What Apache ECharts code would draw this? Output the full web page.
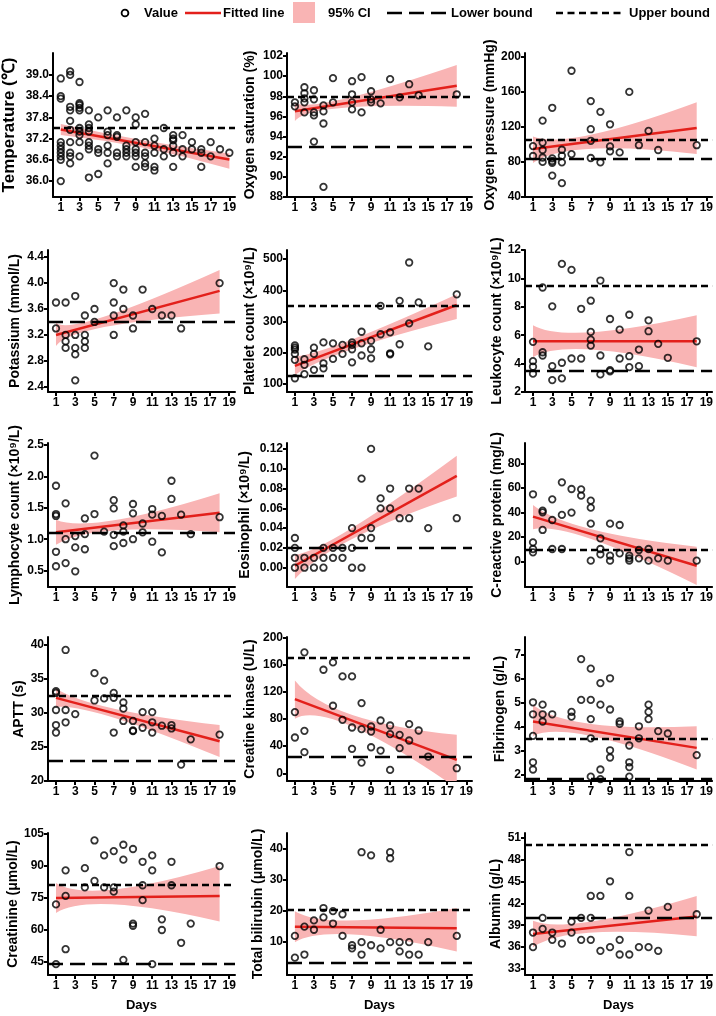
<!DOCTYPE html>
<html>
<head>
<meta charset="utf-8">
<script src="https://cdn.jsdelivr.net/npm/echarts@6/dist/echarts.min.js"></script>
<style>
  html, body { margin: 0; background: #fff; }
  #chart { width: 716px; height: 1016px; }
</style>
</head>
<body>
<div id="chart"></div>
<script>
  // ---- data: [day, value] ----
  var dayTicks = [1, 3, 5, 7, 9, 11, 13, 15, 17, 19];

  var temperature = [[1,38.9],[1,38.4],[1,38.33],[1,37.1],[1,37.0],[1,36.9],[1,36.8],[1,36.7],[1,36.6],[1,36.0],
    [2,39.1],[2,39.0],[2,38.1],[2,38.0],[2,37.7],[2,37.45],[2,37.1],[2,36.8],[2,36.7],[2,36.5],
    [3,38.8],[3,38.2],[3,38.15],[3,38.07],[3,38.0],[3,37.5],[3,37.4],[3,37.3],[3,37.1],[3,36.7],
    [4,38.0],[4,37.6],[4,37.5],[4,37.4],[4,37.1],[4,37.0],[4,36.9],[4,36.1],
    [5,37.8],[5,36.9],[5,36.8],[5,36.2],[6,38.0],[6,37.4],[6,37.3],[6,37.0],[6,36.8],[6,36.5],
    [7,37.8],[7,37.3],[7,37.25],[7,36.8],[7,36.7],[8,38.0],[8,37.0],[8,36.9],[8,36.8],[8,36.7],
    [9,37.8],[9,37.6],[9,37.1],[9,36.9],[9,36.8],[9,36.7],[9,36.4],[10,37.9],[10,37.1],[10,36.8],[10,36.7],[10,36.5],[10,36.4],
    [11,37.2],[11,37.0],[11,36.8],[11,36.4],[11,36.3],[12,37.5],[12,36.9],[12,36.7],
    [13,37.3],[13,37.2],[13,37.15],[13,37.0],[13,36.8],[13,36.4],[14,37.3],[14,36.9],[14,36.7],
    [15,37.1],[15,36.9],[16,36.9],[16,36.8],[16,36.4],[17,37.1],[17,36.7],[18,36.9],[19,36.8]];
  var temperatureFit = [[1,37.46],[19,36.61]];
  var temperatureCI = [[1,37.30,37.61],[10,36.93,37.14],[19,36.35,36.78]];
  var temperatureBounds = [null, 37.5];
  var temperatureTicks = [36.0, 36.6, 37.2, 37.8, 38.4, 39.0];

  var oxygenSat = [[1,97.4],[1,97.0],[2,98.9],[2,98.3],[2,97.8],[2,97.4],[2,96.4],[3,98.6],[3,97.7],[3,96.4],[3,96.1],[3,93.5],
    [4,97.1],[4,96.5],[4,95.3],[4,89.0],[5,99.8],[5,97.4],[7,99.5],[7,98.2],[7,97.4],[7,96.7],[8,99.9],[8,96.4],
    [9,98.5],[9,97.7],[9,97.4],[10,97.3],[11,99.7],[12,97.9],[13,99.2],[14,98.1],[18,98.2]];
  var oxygenSatFit = [[1,96.52],[18,99.05]];
  var oxygenSatCI = [[1,95.54,97.41],[6,96.85,97.7],[18,96.95,101.1]];
  var oxygenSatBounds = [93, 98];
  var oxygenSatTicks = [88, 90, 92, 94, 96, 98, 100, 102];

  var oxygenPressure = [[1,98],[1,86.7],[2,127],[2,102],[2,93.5],[2,85],[2,80],[3,141.6],[3,84],[3,81],[3,79],[3,64.4],
    [4,93.8],[4,87],[4,79.5],[4,55.8],[5,183.8],[5,88.9],[7,149.2],[7,117.2],[7,104],[7,84.4],[8,137],[8,79.5],
    [9,122.8],[9,97.6],[9,92],[10,90.8],[11,159.7],[12,99],[13,115.3],[14,93.5],[18,99]];
  var oxygenPressureFit = [[1,94.6],[18,118.7]];
  var oxygenPressureCI = [[1,78.8,108.9],[7,95,111],[18,88.9,148]];
  var oxygenPressureBounds = [83, 105];
  var oxygenPressureTicks = [40, 80, 120, 160, 200];

  var potassium = [[1,3.7],[1,3.3],[2,3.7],[2,3.2],[2,3.1],[2,3.0],[3,3.8],[3,3.2],[3,3.0],[3,2.9],[3,2.5],
    [4,3.5],[4,3.2],[4,3.1],[4,3.0],[5,3.6],[5,3.4],[7,4.0],[7,3.7],[7,3.5],[7,3.2],[8,3.9],[8,3.6],
    [9,3.5],[9,3.3],[10,3.9],[11,3.6],[12,3.5],[13,3.5],[14,3.3],[18,4.0]];
  var potassiumFit = [[1,3.20],[18,3.88]];
  var potassiumCI = [[1,3.03,3.39],[6,3.32,3.48],[18,3.53,4.20]];
  var potassiumBounds = [3.4, null];
  var potassiumTicks = [2.4, 2.8, 3.2, 3.6, 4.0, 4.4];

  var platelet = [[1,223],[1,216],[1,210],[1,196],[1,177],[1,118],[2,179],[2,161],[2,131],[3,216],[3,196],[3,145],
    [4,233],[4,166],[4,150],[5,230],[5,180],[6,225],[6,196],[7,233],[7,225],[7,211],[7,169],[8,267],[8,230],[8,191],
    [9,238],[9,211],[9,182],[10,350],[10,259],[11,265],[11,198],[11,195],[12,366],[12,227],[13,489],[13,294],
    [14,361],[15,220],[18,387]];
  var plateletFit = [[1,157.6],[18,352.8]];
  var plateletCI = [[1,128.8,187.5],[7,211,242],[18,308,387]];
  var plateletBounds = [125, 350];
  var plateletTicks = [100, 200, 300, 400, 500];

  var leukocyte = [[1,5.53],[1,4.17],[1,3.78],[1,3.29],[2,9.36],[2,4.8],[2,4.57],[3,8.03],[3,3.82],[3,2.84],
    [4,11.02],[4,4.06],[4,2.96],[5,10.6],[5,4.36],[6,7.86],[6,4.36],[7,8.43],[7,6.23],[7,5.69],[7,5.27],
    [8,9.85],[8,4.57],[8,3.24],[9,7.14],[9,3.54],[9,3.45],[10,6.39],[10,4.36],[11,7.44],[11,4.52],[11,3.75],
    [12,4.99],[12,3.82],[13,7.05],[13,6.28],[14,5.39],[15,4.41],[18,5.57]];
  var leukocyteFit = [[1,5.57],[18,5.57]];
  var leukocyteCI = [[1,4.45,6.7],[7,5.0,6.2],[18,3.75,7.4]];
  var leukocyteBounds = [3.5, 9.5];
  var leukocyteTicks = [2, 4, 6, 8, 10, 12];

  var lymphocyte = [[1,1.85],[1,1.40],[1,1.37],[1,0.80],[1,0.57],[2,1.57],[2,1.0],[2,0.62],[3,1.05],[3,0.87],[3,0.49],
    [4,1.33],[4,1.08],[4,0.84],[5,2.33],[5,1.40],[6,1.12],[7,1.62],[7,1.49],[7,1.07],[7,0.89],[8,1.22],[8,1.12],[8,0.94],
    [9,1.56],[9,1.41],[9,1.0],[10,1.25],[10,1.11],[11,1.48],[11,1.39],[11,0.96],[12,1.37],[12,0.79],[13,1.93],[13,1.64],
    [14,1.39],[15,1.08],[18,1.35]];
  var lymphocyteFit = [[1,1.11],[18,1.42]];
  var lymphocyteCI = [[1,0.91,1.31],[7,1.14,1.30],[18,1.11,1.73]];
  var lymphocyteBounds = [1.1, null];
  var lymphocyteTicks = [0.5, 1.0, 1.5, 2.0, 2.5];

  var eosinophil = [[1,0.03],[1,0.02],[1,0.01],[1,0],[2,0.01],[2,0],[3,0.01],[3,0],[4,0.02],[4,0.01],[4,0],
    [5,0.02],[5,0.01],[6,0.02],[6,0.01],[7,0.04],[7,0.02],[7,0],[8,0.09],[8,0.03],[8,0],[9,0.12],[9,0.04],[9,0.03],
    [10,0.07],[10,0.06],[11,0.08],[11,0.06],[12,0.05],[13,0.08],[13,0.05],[14,0.08],[15,0.04],[18,0.05]];
  var eosinophilFit = [[1,0.002],[18,0.0927]];
  var eosinophilCI = [[1,-0.0115,0.0128],[7,0.029,0.040],[18,0.072,0.113]];
  var eosinophilBounds = [0.02, null];
  var eosinophilTicks = [0, 0.02, 0.04, 0.06, 0.08, 0.10, 0.12];

  var crp = [[1,54.8],[1,15.7],[1,10.3],[1,7.6],[2,41.5],[2,40.1],[2,25.8],[3,50.7],[3,33.9],[3,10.3],
    [4,64.5],[4,38],[4,10.3],[5,59.1],[5,39.9],[6,58.8],[6,53.7],[7,49.6],[7,43.9],[7,30.9],[7,0.8],
    [8,19],[8,10.3],[8,6],[9,30.9],[9,4.9],[9,0.8],[10,29.8],[10,6.8],[11,4.9],[11,2.7],[11,0.8],
    [12,9.5],[12,2.7],[13,10.3],[13,0.8],[14,2.7],[15,0.8],[18,0.8]];
  var crpFit = [[1,36.6],[18,-3.3]];
  var crpCI = [[1,26.3,46.1],[7,18.5,26.5],[18,-19,12.2]];
  var crpBounds = [null, 10];
  var crpTicks = [0, 20, 40, 60, 80];

  var aptt = [[1,33.15],[1,32.9],[1,30.4],[1,28.2],[1,27.1],[2,39.2],[2,30.4],[2,28.6],[3,29.8],[5,35.8],[5,31.8],
    [6,34.7],[6,32.1],[7,32.9],[7,32.2],[7,27.1],[8,31.5],[8,30.6],[8,28.8],[9,28.8],[9,27.4],[9,27.3],
    [10,30.1],[10,27.8],[11,30.1],[11,28.6],[11,27.1],[12,28.1],[13,28.2],[13,27.7],[14,22.4],[15,26.1],[18,26.8]];
  var apttFit = [[1,32.18],[18,25.82]];
  var apttCI = [[1,30.86,33.55],[7,29.3,30.6],[18,23.5,28.2]];
  var apttBounds = [23, 32.5];
  var apttTicks = [20, 25, 30, 35, 40];

  var creatineKinase = [[1,90],[1,52.6],[2,177.9],[2,62.4],[2,31],[4,152.3],[5,163.1],[5,99.3],[6,142.5],[6,78.6],
    [7,142.5],[7,67.3],[7,35.9],[8,103.2],[8,64.9],[8,15.7],[9,68.8],[9,61.4],[9,38.3],[10,77.6],[10,33.4],
    [11,70.3],[11,57.5],[11,4.9],[12,56.5],[12,36.9],[13,72.2],[13,48.2],[14,62.9],[15,24.6],[18,7.4]];
  var creatineKinaseFit = [[1,109.1],[18,19.7]];
  var creatineKinaseCI = [[1,80.1,136.6],[7,68.8,86],[18,-22,56.5]];
  var creatineKinaseBounds = [24, 170];
  var creatineKinaseTicks = [0, 40, 80, 120, 160, 200];

  var fibrinogen = [[1,5.0],[1,4.5],[1,3.6],[1,2.5],[1,2.2],[2,4.9],[2,4.5],[2,4.2],[3,4.5],[5,4.6],[5,4.4],
    [6,6.8],[6,5.1],[7,6.4],[7,5.1],[7,4.3],[7,3.5],[7,1.9],[8,5.8],[8,4.9],[8,2.2],[8,1.8],
    [9,6.0],[9,4.7],[9,3.0],[9,2.7],[10,4.2],[10,4.1],[11,3.2],[11,2.5],[11,2.3],[11,1.9],
    [12,4.0],[12,3.5],[13,4.9],[13,4.6],[13,4.3],[14,3.8],[15,3.7],[18,2.8]];
  var fibrinogenFit = [[1,4.2],[18,3.1]];
  var fibrinogenCI = [[1,3.6,4.9],[7,3.6,4.1],[18,2.2,4.0]];
  var fibrinogenBounds = [1.8, 3.5];
  var fibrinogenTicks = [2, 3, 4, 5, 6, 7];

  var creatinine = [[1,72],[1,44],[2,88],[2,76],[2,51],[4,89],[4,80],[5,102],[5,83],[6,95],[6,80],
    [7,97],[7,80],[7,78],[8,100],[8,93],[8,46],[9,98],[9,63],[9,62],[10,92],[10,81],[10,74],
    [11,95],[11,88],[11,44],[12,65],[12,60],[13,92],[13,81],[14,54],[15,63],[18,90]];
  var creatinineFit = [[1,75],[18,76]];
  var creatinineCI = [[1,68,82],[7,72,79],[18,64,90]];
  var creatinineBounds = [44, 81];
  var creatinineTicks = [45, 60, 75, 90, 105];

  var bilirubin = [[1,12],[1,5],[2,15],[2,6],[3,17],[3,14],[4,21],[4,18],[5,20],[5,16],[6,19],[6,12],
    [7,9],[7,8],[8,39],[8,10],[8,6],[9,38],[9,9],[10,14],[10,8],[11,39],[11,37],[11,10],
    [12,10],[12,7],[13,10],[13,6],[14,6],[15,10],[18,12]];
  var bilirubinFit = [[1,15],[18,14.5]];
  var bilirubinCI = [[1,10,20],[7,12.5,17],[18,7,21]];
  var bilirubinBounds = [3.4, 20.5];
  var bilirubinTicks = [10, 20, 30, 40];

  var albumin = [[1,38],[1,36],[2,40],[2,38.5],[3,38],[3,37],[4,36.5],[5,39.5],[5,38],[6,40],[6,37],
    [7,43],[7,40],[7,37],[8,43],[8,35.5],[9,45],[9,36],[10,37],[10,35],[11,49],[11,43],[11,35],
    [12,36],[13,41],[13,36],[14,35.5],[15,41.5],[18,40.5]];
  var albuminFit = [[1,37.8],[18,40.2]];
  var albuminCI = [[1,36,39.6],[7,38,39.5],[18,37.5,43]];
  var albuminBounds = [40, 50];
  var albuminTicks = [33, 36, 39, 42, 45, 48, 51];

  // ---- layout ----
  var colLeft = [48, 287, 525];
  var colWidth = [187, 185, 188];
  var rowTop = [53, 250, 443, 637, 833];
  var rowBottom = [197, 392, 587, 781, 975];
  var FONT = '"Liberation Sans", Arial, sans-serif';
  var BAND = '#f9b4b4';
  var RED = '#e3201b';

  var panels = [
    {name: 'Temperature (℃)', pts: temperature, fit: temperatureFit, ci: temperatureCI, bounds: temperatureBounds, ticks: temperatureTicks, min: 35.55, max: 39.62, dec: 1, gap: 35, nameSize: 17},
    {name: 'Oxygen saturation (%)', pts: oxygenSat, fit: oxygenSatFit, ci: oxygenSatCI, bounds: oxygenSatBounds, ticks: oxygenSatTicks, min: 88, max: 102.3, dec: 0, gap: 30},
    {name: 'Oxygen pressure (mmHg)', pts: oxygenPressure, fit: oxygenPressureFit, ci: oxygenPressureCI, bounds: oxygenPressureBounds, ticks: oxygenPressureTicks, min: 40, max: 204, dec: 0, gap: 22},
    {name: 'Potassium (mmol/L)', pts: potassium, fit: potassiumFit, ci: potassiumCI, bounds: potassiumBounds, ticks: potassiumTicks, min: 2.32, max: 4.51, dec: 1, gap: 26},
    {name: 'Platelet count (×10⁹/L)', pts: platelet, fit: plateletFit, ci: plateletCI, bounds: plateletBounds, ticks: plateletTicks, min: 74, max: 529, dec: 0, gap: 30},
    {name: 'Leukocyte count (×10⁹/L)', pts: leukocyte, fit: leukocyteFit, ci: leukocyteCI, bounds: leukocyteBounds, ticks: leukocyteTicks, min: 2, max: 12, dec: 0, gap: 19},
    {name: 'Lymphocyte count (×10⁹/L)', pts: lymphocyte, fit: lymphocyteFit, ci: lymphocyteCI, bounds: lymphocyteBounds, ticks: lymphocyteTicks, min: 0.24, max: 2.53, dec: 1, gap: 26},
    {name: 'Eosinophil (×10⁹/L)', pts: eosinophil, fit: eosinophilFit, ci: eosinophilCI, bounds: eosinophilBounds, ticks: eosinophilTicks, min: -0.0195, max: 0.126, dec: 2, gap: 35},
    {name: 'C-reactive protein (mg/L)', pts: crp, fit: crpFit, ci: crpCI, bounds: crpBounds, ticks: crpTicks, min: -20.6, max: 96.5, dec: 0, gap: 20},
    {name: 'APTT (s)', pts: aptt, fit: apttFit, ci: apttCI, bounds: apttBounds, ticks: apttTicks, min: 20, max: 41.1, dec: 0, gap: 22},
    {name: 'Creatine kinase (U/L)', pts: creatineKinase, fit: creatineKinaseFit, ci: creatineKinaseCI, bounds: creatineKinaseBounds, ticks: creatineKinaseTicks, min: -11.4, max: 200.5, dec: 0, gap: 30},
    {name: 'Fibrinogen (g/L)', pts: fibrinogen, fit: fibrinogenFit, ci: fibrinogenCI, bounds: fibrinogenBounds, ticks: fibrinogenTicks, min: 1.72, max: 7.72, dec: 0, gap: 18},
    {name: 'Creatinine (μmol/L)', pts: creatinine, fit: creatinineFit, ci: creatinineCI, bounds: creatinineBounds, ticks: creatinineTicks, min: 38.9, max: 105.5, dec: 0, gap: 28},
    {name: 'Total bilirubin (μmol/L)', pts: bilirubin, fit: bilirubinFit, ci: bilirubinCI, bounds: bilirubinBounds, ticks: bilirubinTicks, min: -0.6, max: 45.2, dec: 0, gap: 22},
    {name: 'Albumin (g/L)', pts: albumin, fit: albuminFit, ci: albuminCI, bounds: albuminBounds, ticks: albuminTicks, min: 32.2, max: 51.6, dec: 0, gap: 22}
  ];

  var labelStyle = {color: '#000', fontSize: 12, fontWeight: 'bold', fontFamily: FONT};
  var axisLineStyle = {color: '#000', width: 2};

  // CI band: upper edge left->right, lower edge right->left, each a quadratic through the middle reading
  function bandRenderer(ci) {
    return function(params, api) {
      if (params.dataIndex !== 0) return null;
      var top = ci.map(function(d) { return api.coord([d[0], d[2]]); });
      var bot = ci.map(function(d) { return api.coord([d[0], d[1]]); });
      function ctrl(a, m, b) { return [2 * m[0] - (a[0] + b[0]) / 2, 2 * m[1] - (a[1] + b[1]) / 2]; }
      var ct = ctrl(top[0], top[1], top[2]);
      var cb = ctrl(bot[2], bot[1], bot[0]);
      var d = 'M' + top[0][0] + ' ' + top[0][1] +
        ' Q' + ct[0] + ' ' + ct[1] + ' ' + top[2][0] + ' ' + top[2][1] +
        ' L' + bot[2][0] + ' ' + bot[2][1] +
        ' Q' + cb[0] + ' ' + cb[1] + ' ' + bot[0][0] + ' ' + bot[0][1] + ' Z';
      return {type: 'path', shape: {pathData: d}, style: {fill: BAND}};
    };
  }

  var option = {
    animation: false,
    backgroundColor: '#fff',
    textStyle: {fontFamily: FONT},
    grid: [], xAxis: [], yAxis: [], series: [],
    graphic: []
  };

  panels.forEach(function(p, i) {
    var r = Math.floor(i / 3), c = i % 3;
    option.grid.push({left: colLeft[c], top: rowTop[r], width: colWidth[c], height: rowBottom[r] - rowTop[r]});
    option.xAxis.push({
      type: 'value', gridIndex: i, min: 0.17, max: 19.6,
      axisLine: {show: true, onZero: false, lineStyle: axisLineStyle},
      axisTick: {show: true, length: 4, customValues: dayTicks, lineStyle: axisLineStyle},
      axisLabel: Object.assign({customValues: dayTicks, margin: 5}, labelStyle),
      splitLine: {show: false},
      name: r === 4 ? 'Days' : '',
      nameLocation: 'middle', nameGap: 24,
      nameTextStyle: {color: '#000', fontSize: 13, fontWeight: 'bold', fontFamily: FONT}
    });
    option.yAxis.push({
      type: 'value', gridIndex: i, min: p.min, max: p.max,
      axisLine: {show: true, onZero: false, lineStyle: axisLineStyle},
      axisTick: {show: true, length: 4, customValues: p.ticks, lineStyle: axisLineStyle},
      axisLabel: Object.assign({customValues: p.ticks, margin: 4, formatter: function(v) { return v.toFixed(p.dec); }}, labelStyle),
      splitLine: {show: false},
      name: p.name, nameLocation: 'middle', nameRotate: 90, nameGap: p.gap,
      nameTextStyle: {color: '#000', fontSize: p.nameSize || 14, fontWeight: 'bold', fontFamily: FONT}
    });

    // 95% CI band
    option.series.push({
      type: 'custom', xAxisIndex: i, yAxisIndex: i, data: p.ci,
      encode: {x: 0, y: [1, 2]}, clip: true, silent: true, z: 1,
      renderItem: bandRenderer(p.ci)
    });
    // fitted line
    option.series.push({
      type: 'line', xAxisIndex: i, yAxisIndex: i, data: p.fit,
      symbol: 'none', lineStyle: {color: RED, width: 2.5}, silent: true, z: 3
    });
    // reference bounds
    var marks = [];
    if (p.bounds[0] != null) marks.push({yAxis: p.bounds[0], lineStyle: {type: [15, 7]}});
    if (p.bounds[1] != null) marks.push({yAxis: p.bounds[1], lineStyle: {type: [7, 4]}});
    // observed values
    option.series.push({
      type: 'scatter', xAxisIndex: i, yAxisIndex: i, data: p.pts,
      symbol: 'circle', symbolSize: 6.5,
      itemStyle: {color: 'rgba(255,255,255,0)', borderColor: '#000', borderWidth: 1.8},
      z: 4,
      markLine: {
        silent: true, symbol: ['none', 'none'], label: {show: false}, animation: false,
        lineStyle: {color: '#000', width: 2.3},
        data: marks
      }
    });
  });

  // legend row
  var legendText = {fill: '#000', fontSize: 13, fontWeight: 'bold', fontFamily: FONT, verticalAlign: 'middle'};
  var LY = 13;
  option.graphic = [
    {type: 'circle', shape: {cx: 125, cy: LY, r: 3.4}, style: {fill: 'none', stroke: '#000', lineWidth: 1.8}},
    {type: 'text', x: 144, y: LY, style: Object.assign({text: 'Value'}, legendText)},
    {type: 'line', shape: {x1: 185, y1: LY, x2: 221, y2: LY}, style: {stroke: RED, lineWidth: 2.5}},
    {type: 'text', x: 223, y: LY, style: Object.assign({text: 'Fitted line'}, legendText)},
    {type: 'rect', shape: {x: 293, y: 2, width: 22, height: 21}, style: {fill: BAND}},
    {type: 'text', x: 328, y: LY, style: Object.assign({text: '95% CI'}, legendText)},
    {type: 'line', shape: {x1: 387, y1: LY, x2: 446, y2: LY}, style: {stroke: '#000', lineWidth: 2.5, lineDash: [15, 7]}},
    {type: 'text', x: 451, y: LY, style: Object.assign({text: 'Lower bound'}, legendText)},
    {type: 'line', shape: {x1: 556, y1: LY, x2: 624, y2: LY}, style: {stroke: '#000', lineWidth: 2.5, lineDash: [7, 4.5]}},
    {type: 'text', x: 629, y: LY, style: Object.assign({text: 'Upper bound'}, legendText)}
  ];

  var myChart = echarts.init(document.getElementById('chart'), null, {renderer: 'canvas'});
  myChart.setOption(option);
</script>
</body>
</html>
